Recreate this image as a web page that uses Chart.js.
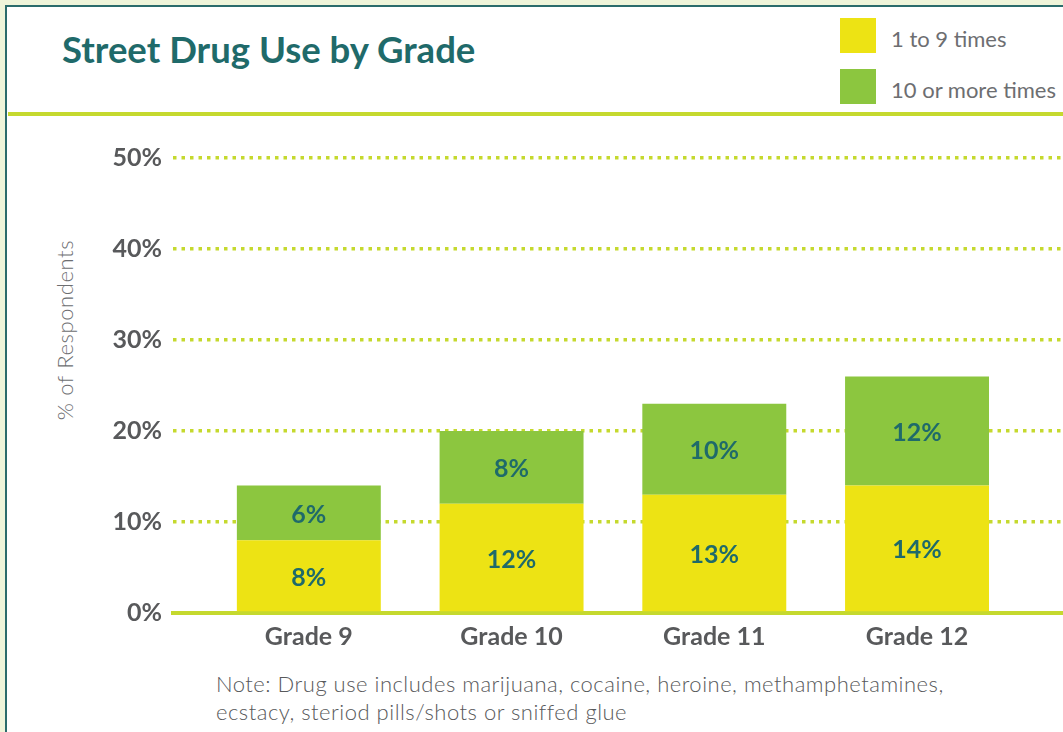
<!DOCTYPE html>
<html>
<head>
<meta charset="utf-8">
<title>Street Drug Use by Grade</title>
<script src="https://cdn.jsdelivr.net/npm/chart.js@4/dist/chart.umd.min.js"></script>
<style>
  body { margin: 0; background: #eff5da; width: 1063px; height: 732px; overflow: hidden; font-family: Lato, sans-serif; }
  .panel { position: absolute; left: 5px; top: 5px; width: 1063px; height: 732px; background: #fff;
           border-left: 2.5px solid #2b6c6c; border-top: 2.5px solid #2b6c6c; }
  .rule { position: absolute; left: 8px; right: 0; top: 112px; height: 3.5px; background: #c5d92e; }
  h1 { position: absolute; left: 62px; top: 31px; margin: 0; font-size: 36.5px; line-height: 1; font-weight: 700; color: #1f6a6a; }
  .legend { position: absolute; left: 840px; top: 18px; }
  .legend .item { position: relative; height: 51px; }
  .legend .sw { position: absolute; left: 0; top: 0; width: 36px; height: 35px; }
  .legend .lbl { position: absolute; left: 51px; top: 10px; font-size: 22px; line-height: 1; font-weight: 400; color: #6d6e71; white-space: nowrap; }
  .ytitle { position: absolute; left: 64px; top: 330px; transform: translate(-50%, -50%) rotate(-90deg);
            font-size: 22px; letter-spacing: 0.6px; font-weight: 300; color: #6d6e71; white-space: nowrap; }
  .note { position: absolute; left: 216px; top: 670px; font-size: 22px; letter-spacing: 0.5px; line-height: 28px; font-weight: 300; color: #58595b; }
  canvas { position: absolute; left: 0; top: 0; }
</style>
</head>
<body>
<div class="panel"></div>
<div class="rule"></div>
<h1>Street Drug Use by Grade</h1>
<div class="legend" id="legend"></div>
<div class="ytitle">% of Respondents</div>
<div class="note">Note: Drug use includes marijuana, cocaine, heroine, methamphetamines,<br>ecstacy, steriod pills/shots or sniffed glue</div>
<canvas id="chart" width="1063" height="732"></canvas>
<script>
// survey results, percent of respondents
const grades = ['Grade 9', 'Grade 10', 'Grade 11', 'Grade 12'];
const seriesNames = ['1 to 9 times', '10 or more times'];
const oneToNine = [8, 12, 13, 14];
const tenOrMore = [6, 8, 10, 12];
const yTicks = [0, 10, 20, 30, 40, 50];

const colors = ['#ede314', '#8cc63f'];
const lime = '#c5d92e';
const tickGray = '#58595b';
const teal = '#1f6a6a';

// legend boxes up in the header
const legend = document.getElementById('legend');
seriesNames.forEach((name, i) => {
  const item = document.createElement('div');
  item.className = 'item';
  item.innerHTML = '<div class="sw" style="background:' + colors[i] + '"></div><div class="lbl">' + name + '</div>';
  legend.appendChild(item);
});

// value labels in the middle of each bar segment
const barLabels = {
  id: 'barLabels',
  afterDatasetsDraw(chart) {
    const ctx = chart.ctx;
    ctx.save();
    ctx.font = 'bold 25px Lato';
    ctx.fillStyle = teal;
    ctx.textAlign = 'center';
    ctx.textBaseline = 'middle';
    chart.data.datasets.forEach((ds, di) => {
      chart.getDatasetMeta(di).data.forEach((bar, i) => {
        const p = bar.getProps(['x', 'y', 'base'], true);
        ctx.fillText(ds.data[i].y + '%', p.x, (p.y + p.base) / 2 + 2);
      });
    });
    ctx.restore();
  }
};

const toPoints = vals => vals.map((v, i) => ({ x: i, y: v }));

new Chart(document.getElementById('chart'), {
  type: 'bar',
  data: {
    datasets: [
      { label: seriesNames[0], data: toPoints(oneToNine), backgroundColor: colors[0] },
      { label: seriesNames[1], data: toPoints(tenOrMore), backgroundColor: colors[1] }
    ]
  },
  options: {
    responsive: false,
    animation: false,
    events: [],
    categoryPercentage: 0.71,
    barPercentage: 1,
    borderWidth: 0,
    layout: { padding: { top: 158, left: 0, right: 0, bottom: 0 } },
    plugins: { legend: { display: false }, tooltip: { enabled: false } },
    scales: {
      x: {
        type: 'linear',
        stacked: true,
        offset: false,
        min: -0.67,
        max: 3.72,
        afterBuildTicks: scale => { scale.ticks = grades.map((g, i) => ({ value: i })); },
        afterFit: scale => { scale.height = 732 - 613; },
        grid: { display: false, drawTicks: false, offset: false },
        border: { display: true, color: lime, width: 4 },
        ticks: {
          padding: 9,
          font: { family: 'Lato', size: 25, weight: 'bold' },
          color: tickGray,
          callback: v => grades[v]
        }
      },
      y: {
        stacked: true,
        min: 0,
        max: 50,
        afterBuildTicks: scale => { scale.ticks = yTicks.map(v => ({ value: v })); },
        afterFit: scale => { scale.width = 173; },
        grid: {
          color: ctx => ctx.tick && ctx.tick.value === 0 ? 'rgba(0,0,0,0)' : lime,
          lineWidth: 3.5,
          drawTicks: false,
          borderDash: [3.5, 5]
        },
        border: { display: false, dash: [3.5, 5] },
        ticks: {
          padding: 11,
          font: { family: 'Lato', size: 25, weight: 'bold' },
          color: tickGray,
          callback: v => v + '%'
        }
      }
    }
  },
  plugins: [barLabels]
});
</script>
</body>
</html>
